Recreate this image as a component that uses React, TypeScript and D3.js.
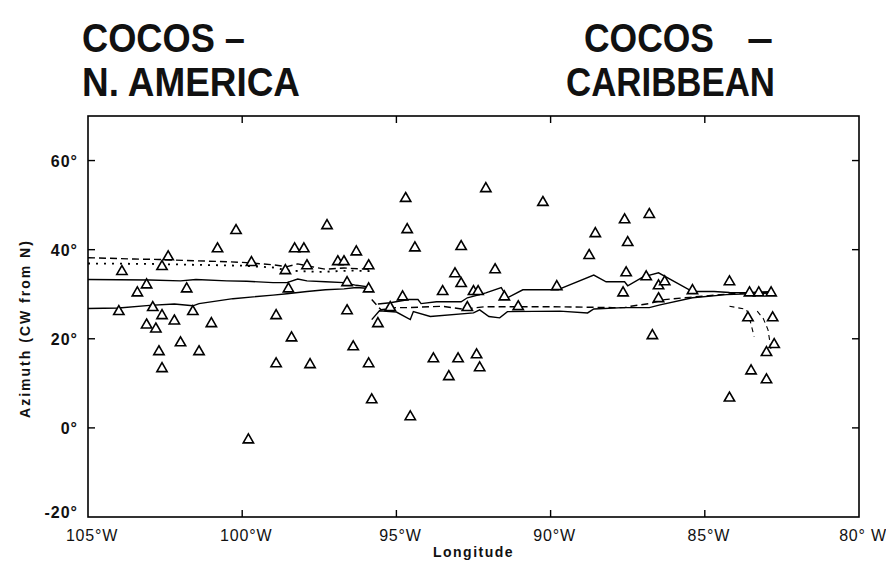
import React from "react";
import * as d3 from "d3";

// Longitude in degrees West, azimuth in degrees CW from N
const xTicks = [105, 100, 95, 90, 85, 80];
const xTickLabels = ["105°W", "100°W", "95°W", "90°W", "85°W", "80° W"];
const yTicks = [-20, 0, 20, 40, 60];
const yTickLabels = ["-20°", "0°", "20°", "40°", "60°"];

const stationsNA: [number, number][] = [
  [103.9, 35.1], [102.4, 38.4], [102.6, 36.2], [103.1, 32.1], [103.4, 30.3], [104.0, 26.1],
  [102.9, 27.0], [102.6, 25.2], [103.1, 23.1], [102.8, 22.2], [102.2, 24.0], [101.6, 26.1],
  [101.8, 31.2], [101.0, 23.4], [102.0, 19.1], [101.4, 17.1], [102.7, 17.1], [102.6, 13.3],
  [100.8, 40.2], [100.2, 44.3], [99.7, 37.1], [99.8, -2.7], [98.9, 25.2], [98.9, 14.4],
  [98.5, 31.2], [98.4, 20.2], [98.6, 35.3], [98.3, 40.2], [98.0, 40.2], [97.25, 45.4],
  [97.9, 36.4], [97.8, 14.2], [96.3, 39.5], [96.9, 37.3], [96.7, 37.3], [95.9, 36.4],
  [96.6, 32.6], [95.9, 31.2], [96.6, 26.3], [96.4, 18.2], [95.9, 14.4], [95.8, 6.3], [95.6, 23.4],
];

const stationsCarib: [number, number][] = [
  [94.7, 51.5], [94.65, 44.5], [94.4, 40.4], [94.8, 29.4], [94.55, 2.5], [93.8, 15.5],
  [93.5, 30.6], [93.3, 11.5], [93.0, 15.5], [92.9, 40.7], [93.1, 34.6], [92.9, 32.4],
  [92.4, 16.4], [92.3, 13.5], [92.5, 30.6], [92.35, 30.6], [92.1, 53.7], [91.8, 35.5],
  [91.5, 29.4], [90.25, 50.6], [89.8, 31.7], [87.6, 46.7], [86.8, 47.9], [88.55, 43.6],
  [87.5, 41.6], [88.75, 38.7], [87.55, 34.8], [87.65, 30.3], [86.9, 33.9], [86.5, 31.9],
  [86.3, 32.8], [86.5, 29.0], [86.7, 20.7], [85.4, 30.8], [84.2, 32.8], [83.55, 30.3],
  [83.25, 30.3], [82.85, 30.3], [83.6, 24.7], [82.8, 24.7], [82.75, 18.7], [83.0, 16.9],
  [83.5, 12.8], [83.0, 10.8], [84.2, 6.7], [91.05, 27.2], [92.7, 27.0], [95.2, 27.0],
];

const naDashed: [number, number][] = [
  [105, 38.2], [103.5, 37.9], [102.7, 37.8], [101.5, 37.5], [100.5, 37.3], [99.85, 37.1],
  [99, 36.6], [98.55, 36.2], [98.2, 36.8], [97.9, 36.4], [97.3, 35.6], [96.7, 35.9],
  [96.2, 35.7], [95.85, 35.6],
];
const naDotted: [number, number][] = [
  [105, 36.9], [103, 36.8], [101.5, 36.6], [100, 36.4], [99, 36.0], [98.5, 35.3],
  [97.5, 35.0], [96.5, 35.3], [95.85, 35.2],
];
const naSolidUpper: [number, number][] = [
  [105, 33.3], [103, 33.2], [102, 33.0], [101.5, 33.3], [100.5, 33.0], [99.85, 32.9],
  [99, 32.6], [98.55, 32.6], [98.2, 33.4], [97.9, 33.0], [97.3, 32.8], [96.7, 32.6],
  [96.3, 32.0], [95.85, 31.6],
];
const naSolidLower: [number, number][] = [
  [105, 26.8], [104, 26.9], [103, 27.5], [102.2, 27.8], [101.6, 27.4], [101.4, 27.9],
  [100.3, 29.0], [99, 29.8], [98.55, 30.1], [97.9, 30.6], [97.3, 31.0], [96.7, 31.2],
  [96.3, 31.5], [95.85, 31.3],
];

const cbUpper: [number, number][] = [
  [95.6, 27.8], [95.2, 28.1], [94.6, 28.8], [94.3, 28.8], [94.2, 27.9], [93.7, 28.3],
  [92.9, 28.3], [92.7, 29.2], [92.3, 29.9], [92.1, 30.3], [91.6, 31.5], [91.4, 29.2],
  [90.9, 31.0], [89.75, 31.0], [89.6, 31.5], [88.6, 34.3], [88.2, 32.8], [87.6, 32.8],
  [87.5, 31.9], [87.0, 33.9], [86.5, 34.8], [85.4, 30.6], [84.7, 30.6], [84.2, 30.4],
  [82.85, 30.3],
];
const cbDashed: [number, number][] = [
  [95.8, 28.8], [95.5, 26.5], [95.0, 27.0], [94.6, 27.0], [93.5, 27.3], [92.8, 26.6],
  [92.4, 27.0], [92.1, 27.2], [90.0, 27.2], [88.0, 27.0], [87.6, 27.0], [87.4, 27.3],
  [86.8, 27.9], [86.3, 28.8], [85.5, 29.3], [84.5, 29.9], [83.5, 30.4], [82.85, 30.6],
];
const cbLower: [number, number][] = [
  [95.8, 24.3], [95.55, 26.3], [95.0, 26.0], [94.55, 24.3], [94.45, 26.1], [93.9, 25.0],
  [92.5, 25.8], [92.3, 26.5], [92.0, 25.0], [91.65, 24.7], [91.4, 26.1], [89.7, 26.2],
  [88.8, 25.8], [88.6, 26.7], [87.65, 27.0], [86.8, 27.0], [86.45, 27.6], [85.4, 29.2],
  [84.3, 29.9], [82.8, 30.3],
];
const dashTail1: [number, number][] = [[84.2, 27.3], [83.65, 26.6], [83.55, 24.6], [83.4, 20.5]];
const dashTail2: [number, number][] = [[83.3, 26.2], [83.1, 24.5], [82.95, 22.0], [82.85, 17.5]];

const W = 886;
const H = 563;
const FONT = "'Liberation Sans', Arial, Helvetica, sans-serif";

export default function App() {
  const x = d3.scaleLinear().domain([105, 80]).range([88, 859]);
  const y = d3.scaleLinear().domain([-20, 70]).range([517, 116]);
  const line = d3
    .line<[number, number]>()
    .x((d) => x(d[0]))
    .y((d) => y(d[1]));
  const tri = d3.symbol(d3.symbolTriangle, 46)() as string;

  const [x0, x1] = x.range();
  const [y0, y1] = y.range();
  const tickLen = 7;

  const solid = { fill: "none", stroke: "#000", strokeWidth: 1.4 };
  const dashed = { ...solid, strokeDasharray: "7 4" };
  const dotted = { ...solid, strokeWidth: 1.8, strokeDasharray: "2 6" };

  return (
    <svg
      width={W}
      height={H}
      style={{ position: "absolute", left: 0, top: 0, background: "#fff" }}
      fontFamily={FONT}
    >
      <rect width={W} height={H} fill="#fff" />
      {/* titles */}
      <g fontWeight="bold" fontSize={40} fill="#111">
        <text x={82} y={52} textLength={163} lengthAdjust="spacingAndGlyphs">COCOS –</text>
        <text x={82} y={96} textLength={218} lengthAdjust="spacingAndGlyphs">N. AMERICA</text>
        <text x={584} y={52} textLength={130} lengthAdjust="spacingAndGlyphs">COCOS</text>
        <text x={747} y={52} textLength={26} lengthAdjust="spacingAndGlyphs">–</text>
        <text x={566} y={96} textLength={209} lengthAdjust="spacingAndGlyphs">CARIBBEAN</text>
      </g>

      {/* frame */}
      <rect x={x0} y={y1} width={x1 - x0} height={y0 - y1} fill="none" stroke="#000" strokeWidth={1.6} />

      {/* x ticks */}
      {xTicks.slice(1, -1).map((t) => (
        <g key={"xt" + t} stroke="#000" strokeWidth={1.4}>
          <line x1={x(t)} x2={x(t)} y1={y0} y2={y0 - tickLen} />
          <line x1={x(t)} x2={x(t)} y1={y1} y2={y1 + tickLen} />
        </g>
      ))}
      {/* y ticks */}
      {yTicks.slice(1).map((t) => (
        <g key={"yt" + t} stroke="#000" strokeWidth={1.4}>
          <line x1={x0} x2={x0 + tickLen} y1={y(t)} y2={y(t)} />
          <line x1={x1} x2={x1 - tickLen} y1={y(t)} y2={y(t)} />
        </g>
      ))}

      {/* x tick labels */}
      <g fontSize={16} fill="#111" textAnchor="middle" letterSpacing={0.8}>
        {xTicks.map((t, i) => (
          <text key={"xl" + t} x={x(t) + 4} y={541}>
            {xTickLabels[i]}
          </text>
        ))}
      </g>
      {/* y tick labels */}
      <g fontSize={16} fill="#111" textAnchor="end" fontWeight="bold" letterSpacing={1}>
        {yTicks.map((t, i) => (
          <text key={"yl" + t} x={78} y={t === -20 ? y(t) + 1 : y(t) + 6}>
            {yTickLabels[i]}
          </text>
        ))}
      </g>

      {/* axis titles */}
      <text
        x={(x0 + x1) / 2}
        y={557}
        textAnchor="middle"
        fontSize={14}
        fontWeight="bold"
        letterSpacing={1.5}
        fill="#111"
      >
        Longitude
      </text>
      <text
        transform={`translate(30,${(y0 + y1) / 2 + 12}) rotate(-90)`}
        textAnchor="middle"
        fontSize={14}
        fontWeight="bold"
        letterSpacing={2}
        fill="#111"
      >
        Azimuth (CW from N)
      </text>

      {/* lines */}
      <path d={line(naDashed) as string} {...dashed} />
      <path d={line(naDotted) as string} {...dotted} />
      <path d={line(naSolidUpper) as string} {...solid} />
      <path d={line(naSolidLower) as string} {...solid} />
      <path d={line(cbUpper) as string} {...solid} />
      <path d={line(cbDashed) as string} {...dashed} />
      <path d={line(cbLower) as string} {...solid} />
      <path d={line(dashTail1) as string} {...dashed} strokeWidth={1.1} strokeDasharray="5 4" />
      <path d={line(dashTail2) as string} {...dashed} strokeWidth={1.1} strokeDasharray="5 4" />

      {/* stations */}
      {[...stationsNA, ...stationsCarib].map((d, i) => (
        <path
          key={"s" + i}
          d={tri}
          transform={`translate(${x(d[0])},${y(d[1])})`}
          fill="#fff"
          stroke="#000"
          strokeWidth={1.6}
        />
      ))}
    </svg>
  );
}
